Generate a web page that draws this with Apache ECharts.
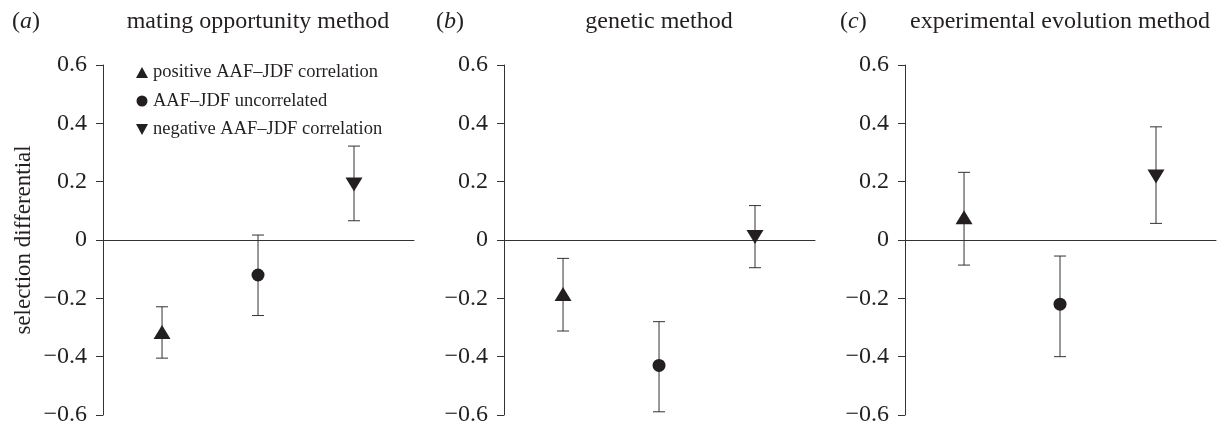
<!DOCTYPE html>
<html>
<head>
<meta charset="utf-8">
<script src="https://cdn.jsdelivr.net/npm/echarts@6/dist/echarts.min.js"></script>
<style>
  html, body { margin: 0; padding: 0; background: #fff; }
  #chart { width: 1224px; height: 427px; }
</style>
</head>
<body>
<div id="chart"></div>
<script>
// panels and groups
var panels = ['mating opportunity method', 'genetic method', 'experimental evolution method'];
var panelTags = ['a', 'b', 'c'];
var groups = ['positive AAF\u2013JDF correlation', 'AAF\u2013JDF uncorrelated', 'negative AAF\u2013JDF correlation'];

// mean selection differential, one value per panel
var positiveMean = [-0.315, -0.185, 0.078];
var uncorrMean = [-0.12, -0.43, -0.22];
var negativeMean = [0.19, 0.01, 0.218];

// error bar ends
var positiveLow = [-0.405, -0.312, -0.086];
var positiveHigh = [-0.229, -0.063, 0.232];
var uncorrLow = [-0.259, -0.589, -0.40];
var uncorrHigh = [0.017, -0.28, -0.055];
var negativeLow = [0.066, -0.095, 0.057];
var negativeHigh = [0.322, 0.118, 0.388];

var yTicks = [-0.6, -0.4, -0.2, 0, 0.2, 0.4, 0.6];

var means = [positiveMean, uncorrMean, negativeMean];
var lows = [positiveLow, uncorrLow, negativeLow];
var highs = [positiveHigh, uncorrHigh, negativeHigh];

var font = "'Liberation Serif', 'DejaVu Serif', serif";
var ink = '#231f20';
var symbols = ['triangle', 'circle', 'path://M0,0L10,0L5,9Z'];
var symbolSizes = [[17, 14], 13, [17, 14]];

var gridLefts = [103, 504, 905];
var plotWidth = 311;

var grids = [], xAxes = [], yAxes = [], series = [], graphics = [];

gridLefts.forEach(function (left, p) {
    grids.push({ left: left, top: 65, width: plotWidth, height: 350 });

    xAxes.push({
        type: 'value',
        gridIndex: p,
        min: 0.385,
        max: 3.625,
        axisLine: { show: true, onZero: true, lineStyle: { color: '#333', width: 1 } },
        axisTick: { show: false },
        axisLabel: { show: false },
        splitLine: { show: false }
    });

    yAxes.push({
        type: 'value',
        gridIndex: p,
        min: yTicks[0],
        max: yTicks[yTicks.length - 1],
        interval: 0.2,
        name: p === 0 ? 'selection differential' : '',
        nameLocation: 'middle',
        nameRotate: 90,
        nameGap: 68,
        nameTextStyle: { fontFamily: font, fontSize: 23, color: ink },
        axisLine: { show: true, lineStyle: { color: '#333', width: 1 } },
        axisTick: { show: true, length: 7, lineStyle: { color: '#333' } },
        axisLabel: {
            margin: 16,
            fontFamily: font,
            fontSize: 24,
            color: ink,
            formatter: function (v) {
                if (Math.abs(v) < 1e-9) return '0';
                return (v < 0 ? '\u2212' : '') + Math.abs(v).toFixed(1);
            }
        },
        splitLine: { show: false }
    });

    // error bars
    var barData = [];
    for (var g = 0; g < groups.length; g++) {
        barData.push([g + 1, lows[g][p], highs[g][p]]);
    }
    series.push({
        type: 'custom',
        xAxisIndex: p,
        yAxisIndex: p,
        z: 1,
        silent: true,
        encode: { x: 0, y: [1, 2] },
        data: barData,
        renderItem: function (params, api) {
            var lo = api.coord([api.value(0), api.value(1)]);
            var hi = api.coord([api.value(0), api.value(2)]);
            var cap = 6;
            var st = { stroke: '#333', lineWidth: 1 };
            return {
                type: 'group',
                children: [
                    { type: 'line', shape: { x1: lo[0], y1: lo[1], x2: hi[0], y2: hi[1] }, style: st },
                    { type: 'line', shape: { x1: lo[0] - cap, y1: lo[1], x2: lo[0] + cap, y2: lo[1] }, style: st },
                    { type: 'line', shape: { x1: hi[0] - cap, y1: hi[1], x2: hi[0] + cap, y2: hi[1] }, style: st }
                ]
            };
        }
    });

    // markers
    for (var k = 0; k < groups.length; k++) {
        series.push({
            type: 'scatter',
            name: groups[k],
            xAxisIndex: p,
            yAxisIndex: p,
            z: 3,
            symbol: symbols[k],
            symbolSize: symbolSizes[k],
            itemStyle: { color: ink, opacity: 1 },
            data: [[k + 1, means[k][p]]]
        });
    }

    // panel title
    graphics.push({
        type: 'text',
        style: {
            text: panels[p],
            x: left + 155,
            y: 22,
            textAlign: 'center',
            textVerticalAlign: 'middle',
            font: '24px ' + font,
            fill: ink
        }
    });
});

var tagX = [12, 436, 840];
panelTags.forEach(function (t, p) {
    graphics.push({
        type: 'text',
        style: {
            text: '(' + '{i|' + t + '})',
            x: tagX[p],
            y: 22,
            textVerticalAlign: 'middle',
            font: '24px ' + font,
            fill: ink,
            rich: { i: { fontStyle: 'italic', fontFamily: font, fontSize: 24, fill: ink } }
        }
    });
});

var myChart = echarts.init(document.getElementById('chart'));
myChart.setOption({
    animation: false,
    backgroundColor: '#fff',
    grid: grids,
    xAxis: xAxes,
    yAxis: yAxes,
    legend: {
        data: groups,
        orient: 'vertical',
        left: 131,
        top: 58,
        itemWidth: 12,
        itemHeight: 11,
        itemGap: 9.5,
        selectedMode: false,
        textStyle: { fontFamily: font, fontSize: 18.5, lineHeight: 19, color: ink }
    },
    graphic: graphics,
    series: series
});
</script>
</body>
</html>
